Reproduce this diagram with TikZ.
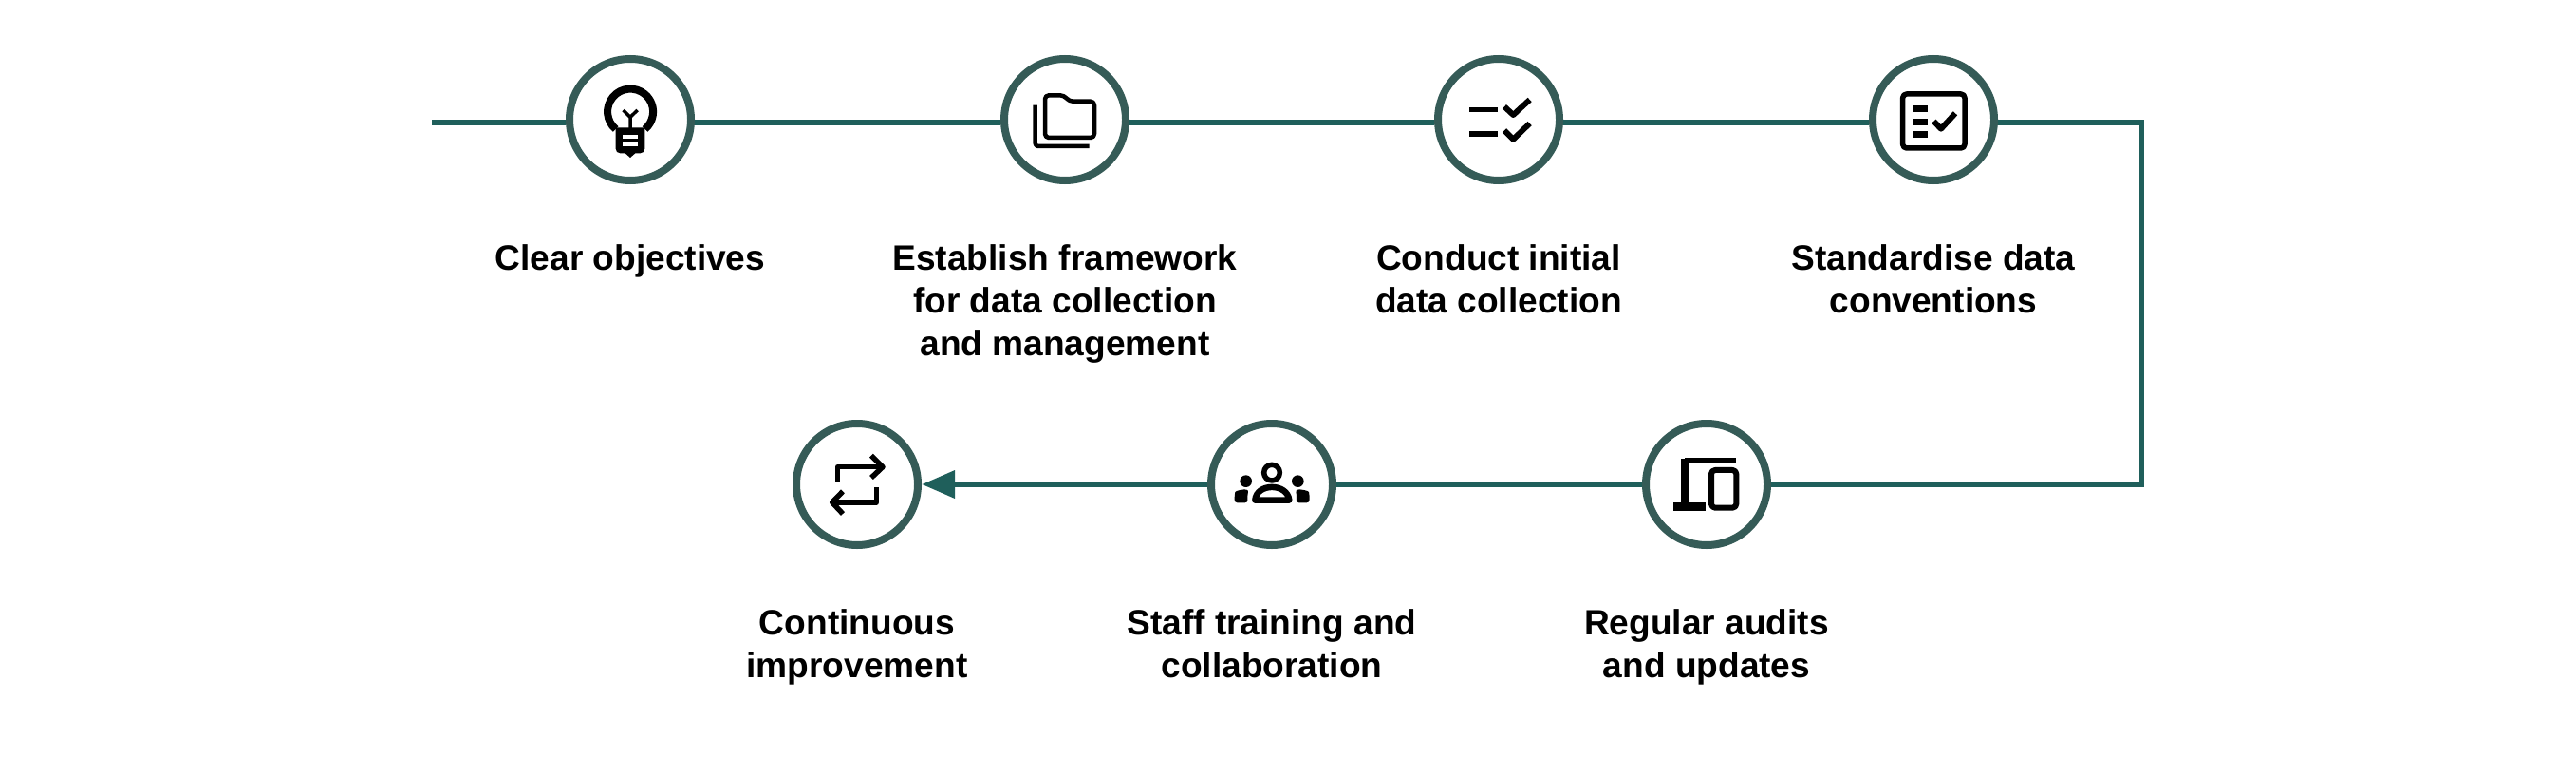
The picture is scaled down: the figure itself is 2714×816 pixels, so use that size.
\documentclass[tikz,border=0pt]{standalone}
\usepackage{fontspec}
\setmainfont{Liberation Sans}
\usetikzlibrary{arrows.meta}
\definecolor{ringcol}{HTML}{355B57}
\definecolor{linecol}{HTML}{1F5F5B}
\tikzset{
  stepring/.style={circle,draw=ringcol,line width=8pt,fill=white,minimum size=128pt,inner sep=0pt,outer sep=4pt},
  flow/.style={draw=linecol,line width=6.5pt,line join=miter},
  caption/.style={align=center,anchor=north,inner sep=0pt,font=\fontsize{37.1pt}{45pt}\selectfont\bfseries},
  ico/.style={draw=black,line width=#1,line join=round,line cap=butt},
  ico/.default=5pt
}
\begin{document}
\begin{tikzpicture}[x=1pt,y=-1pt]
\useasboundingbox (0,0) rectangle (2714,816);
\fill[white] (0,0) rectangle (2714,816);
\coordinate (start) at (455,129);
\coordinate (cornerA) at (2256,129);
\coordinate (cornerB) at (2256,510);
\node[stepring] (c1) at (664,126) {};
\node[stepring] (c2) at (1122,126) {};
\node[stepring] (c3) at (1579,126) {};
\node[stepring] (c4) at (2037,126) {};
\node[stepring] (c5) at (1798,510) {};
\node[stepring] (c6) at (1340,510) {};
\node[stepring] (c7) at (903,510) {};
% connectors
\draw[flow] (start) -- (c1.west |- start);
\draw[flow] (c1.east |- start) -- (c2.west |- start);
\draw[flow] (c2.east |- start) -- (c3.west |- start);
\draw[flow] (c3.east |- start) -- (c4.west |- start);
\draw[flow] (c4.east |- start) -- ([xshift=2.5pt]cornerA);
\draw[draw=linecol,line width=5pt] ([yshift=3pt]cornerA) -- ([yshift=-3pt]cornerB);
\draw[flow] ([xshift=2.5pt]cornerB) -- (c5.east);
\draw[flow] (c5.west) -- (c6.east);
\draw[flow,-{Triangle[length=35pt,width=28pt]}] (c6.west) -- (c7.east);
% captions
\node[caption] (t1) at (664,257.5) {Clear objectives};
\node[caption] (t2) at (1122,257.5) {Establish framework\\for data collection\\and management};
\node[caption] (t3) at (1579,257.5) {Conduct initial\\data collection};
\node[caption] (t4) at (2037,257.5) {Standardise data\\conventions};
\node[caption] (t5) at (1798,641.5) {Regular audits\\and updates};
\node[caption] (t6) at (1340,641.5) {Staff training and\\collaboration};
\node[caption] (t7) at (903,641.5) {Continuous\\improvement};
% bulb
\begin{scope}[shift={(590,55)},scale=0.3333]
\draw[ico=8pt] (176,243) arc (130:410:72);
\fill[black] (176,238) -- (268,238) -- (268,305) arc (0:90:14) -- (238,319) -- (222,333) -- (206,319) -- (190,319) arc (90:180:14) -- cycle;
\fill[white] (198,262) rectangle (246,273);
\fill[white] (198,286) rectangle (246,297);
\draw[ico=3.5pt] (222,240) -- (222,205) -- (200,183);
\draw[ico=3.5pt] (222,205) -- (245,183);
\end{scope}
% folder
\begin{scope}[shift={(1045,55)},scale=0.3333]
\draw[ico=4.5pt,rounded corners=4pt] (168,270) -- (168,136) -- (228,136) -- (244,155) -- (324,155) -- (324,270) -- cycle;
\draw[ico=4.5pt,rounded corners=3pt] (137,167) -- (137,297) -- (308,297);
\end{scope}
% checks
\begin{scope}[shift={(1505,55)},scale=0.3333]
\draw[ico=5.5pt] (130,182) -- (220,182);
\draw[ico=5.5pt] (130,258) -- (220,258);
\draw[ico=6pt] (240,172) -- (268,198) -- (320,150);
\draw[ico=6pt] (240,247) -- (268,275) -- (320,225);
\end{scope}
% form
\begin{scope}[shift={(1960,55)},scale=0.3333]
\draw[ico=5.5pt,rounded corners=4pt] (134,132) rectangle (330,303);
\fill (166,168) rectangle (213,190);
\fill (166,209) rectangle (213,231);
\fill (166,248) rectangle (213,270);
\draw[ico=6pt] (232,218) -- (255,242) -- (300,193);
\end{scope}
% devices
\begin{scope}[shift={(1725,435)},scale=0.3333]
\draw[ico=6pt] (311,151) -- (150,151);
\draw[ico=8.5pt,rounded corners=4pt] (150,143) -- (150,295);
\fill (115,282) rectangle (215,310);
\draw[ico=6pt,rounded corners=4pt] (234,180) rectangle (313,299);
\end{scope}
% people
\begin{scope}[shift={(1265,435)},scale=0.3333]
\draw[ico=5.5pt] (225,188) circle (25);
\fill (143,215) circle (19);
\fill (307,215) circle (19);
\draw[ico=6.5pt] (172,275) .. controls (176,220) and (274,220) .. (280,275) -- cycle;
\fill[rounded corners=3pt] (107,283) -- (107,258) .. controls (110,245) and (135,240) .. (153,243) .. controls (148,255) and (148,270) .. (149,283) -- cycle;
\fill[rounded corners=3pt] (344,283) -- (344,258) .. controls (341,245) and (316,240) .. (298,243) .. controls (303,255) and (303,270) .. (302,283) -- cycle;
\end{scope}
% repeat arrows
\begin{scope}[shift={(830,435)},scale=0.3333]
\draw[ico=5.5pt] (158,215) -- (158,170) -- (298,170);
\draw[ico=5.5pt] (264,134) -- (300,170) -- (264,204);
\draw[ico=5.5pt] (280,235) -- (280,282) -- (142,282);
\draw[ico=5.5pt] (174,247) -- (140,282) -- (174,318);
\end{scope}
\end{tikzpicture}
\end{document}
